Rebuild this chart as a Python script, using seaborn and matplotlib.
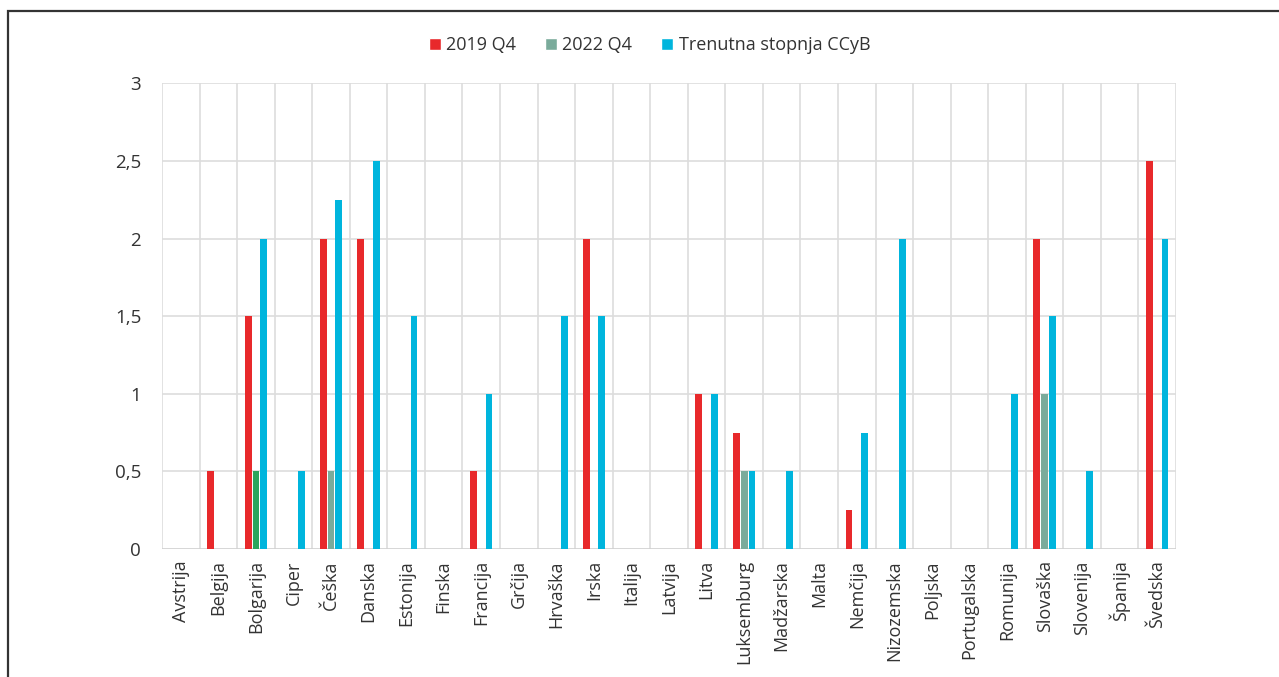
import pandas as pd
import matplotlib.pyplot as plt
import seaborn as sns
from matplotlib.ticker import FuncFormatter
from matplotlib.patches import Rectangle, Patch

# ------------------ DATA ------------------
drzave = ["Avstrija", "Belgija", "Bolgarija", "Ciper", "Češka", "Danska", "Estonija",
          "Finska", "Francija", "Grčija", "Hrvaška", "Irska", "Italija", "Latvija",
          "Litva", "Luksemburg", "Madžarska", "Malta", "Nemčija", "Nizozemska",
          "Poljska", "Portugalska", "Romunija", "Slovaška", "Slovenija", "Španija",
          "Švedska"]
q4_2019 = [0, 0.5, 1.5, 0, 2, 2, 0, 0, 0.5, 0, 0, 2, 0, 0, 1, 0.75, 0, 0, 0.25, 0,
           0, 0, 0, 2, 0, 0, 2.5]
q4_2022 = [0, 0, 0.5, 0, 0.5, 0, 0, 0, 0, 0, 0, 0, 0, 0, 0, 0.5, 0, 0, 0, 0,
           0, 0, 0, 1, 0, 0, 0]
trenutna = [0, 0, 2, 0.5, 2.25, 2.5, 1.5, 0, 1, 0, 1.5, 1.5, 0, 0, 1, 0.5, 0.5, 0,
            0.75, 2, 0, 0, 1, 1.5, 0.5, 0, 2]
serije = ["2019 Q4", "2022 Q4", "Trenutna stopnja CCyB"]
barve = ["#e8292b", "#7aab9b", "#00b5dd"]

df = pd.DataFrame({"Drzava": drzave, serije[0]: q4_2019, serije[1]: q4_2022,
                   serije[2]: trenutna})
df = df.melt(id_vars="Drzava", var_name="Serija", value_name="Vrednost")

# ------------------ GRAF ------------------
sns.set_theme(style="white")
plt.rcParams["font.family"] = ["Open Sans", "DejaVu Sans"]

fig = plt.figure(figsize=(12.79, 6.77), dpi=100)
ax = fig.add_axes([0.1267, 0.189, 0.7928, 0.688])

sns.barplot(data=df, x="Drzava", y="Vrednost", hue="Serija", hue_order=serije,
            palette=barve, width=0.62, gap=0.12, ax=ax, legend=False,
            saturation=1, errorbar=None, linewidth=0)

# Bolgarija 2022 stolpec je v izvirniku bolj zelen
for p in ax.containers[1]:
    if abs(p.get_x() + p.get_width() / 2 - 2) < 0.3:
        p.set_facecolor("#2ca55c")

n = len(drzave)
ax.set_xlim(-0.5, n - 0.5)
ax.set_ylim(0, 3)
ax.set_yticks([0, 0.5, 1, 1.5, 2, 2.5, 3])
ax.yaxis.set_major_formatter(FuncFormatter(lambda v, _: f"{v:g}".replace(".", ",")))
ax.set_xticks(range(n))
ax.set_xticklabels(drzave, rotation=90, fontsize=13, color="#333333")
ax.tick_params(axis="y", labelsize=13.5, colors="#333333", pad=15, length=0)
ax.tick_params(axis="x", length=0, pad=8)
ax.set_xlabel("")
ax.set_ylabel("")

# mreza
for y in [0.5, 1, 1.5, 2, 2.5, 3]:
    ax.axhline(y, color="#dddddd", lw=1.2, zorder=0)
for x in range(n + 1):
    ax.axvline(x - 0.5, color="#dddddd", lw=1.2, zorder=0)
for s in ax.spines.values():
    s.set_visible(False)
ax.axhline(0, color="#d0d0d0", lw=1.2, zorder=0)

# legenda
rocke = [Patch(facecolor=c, label=s) for c, s in zip(barve, serije)]
fig.legend(handles=rocke, loc="center", bbox_to_anchor=(0.508, 0.933), ncol=3,
           frameon=False, fontsize=13, handlelength=0.65, handleheight=0.65,
           handletextpad=0.3, columnspacing=1.6, labelcolor="#333333")

# okvir
fig.add_artist(Rectangle((8 / 1279, -0.1), 1.2, 1 - 11 / 677 + 0.1,
                         transform=fig.transFigure, fill=False,
                         edgecolor="#333333", lw=1.6))

plt.savefig("out.png", dpi=100)
